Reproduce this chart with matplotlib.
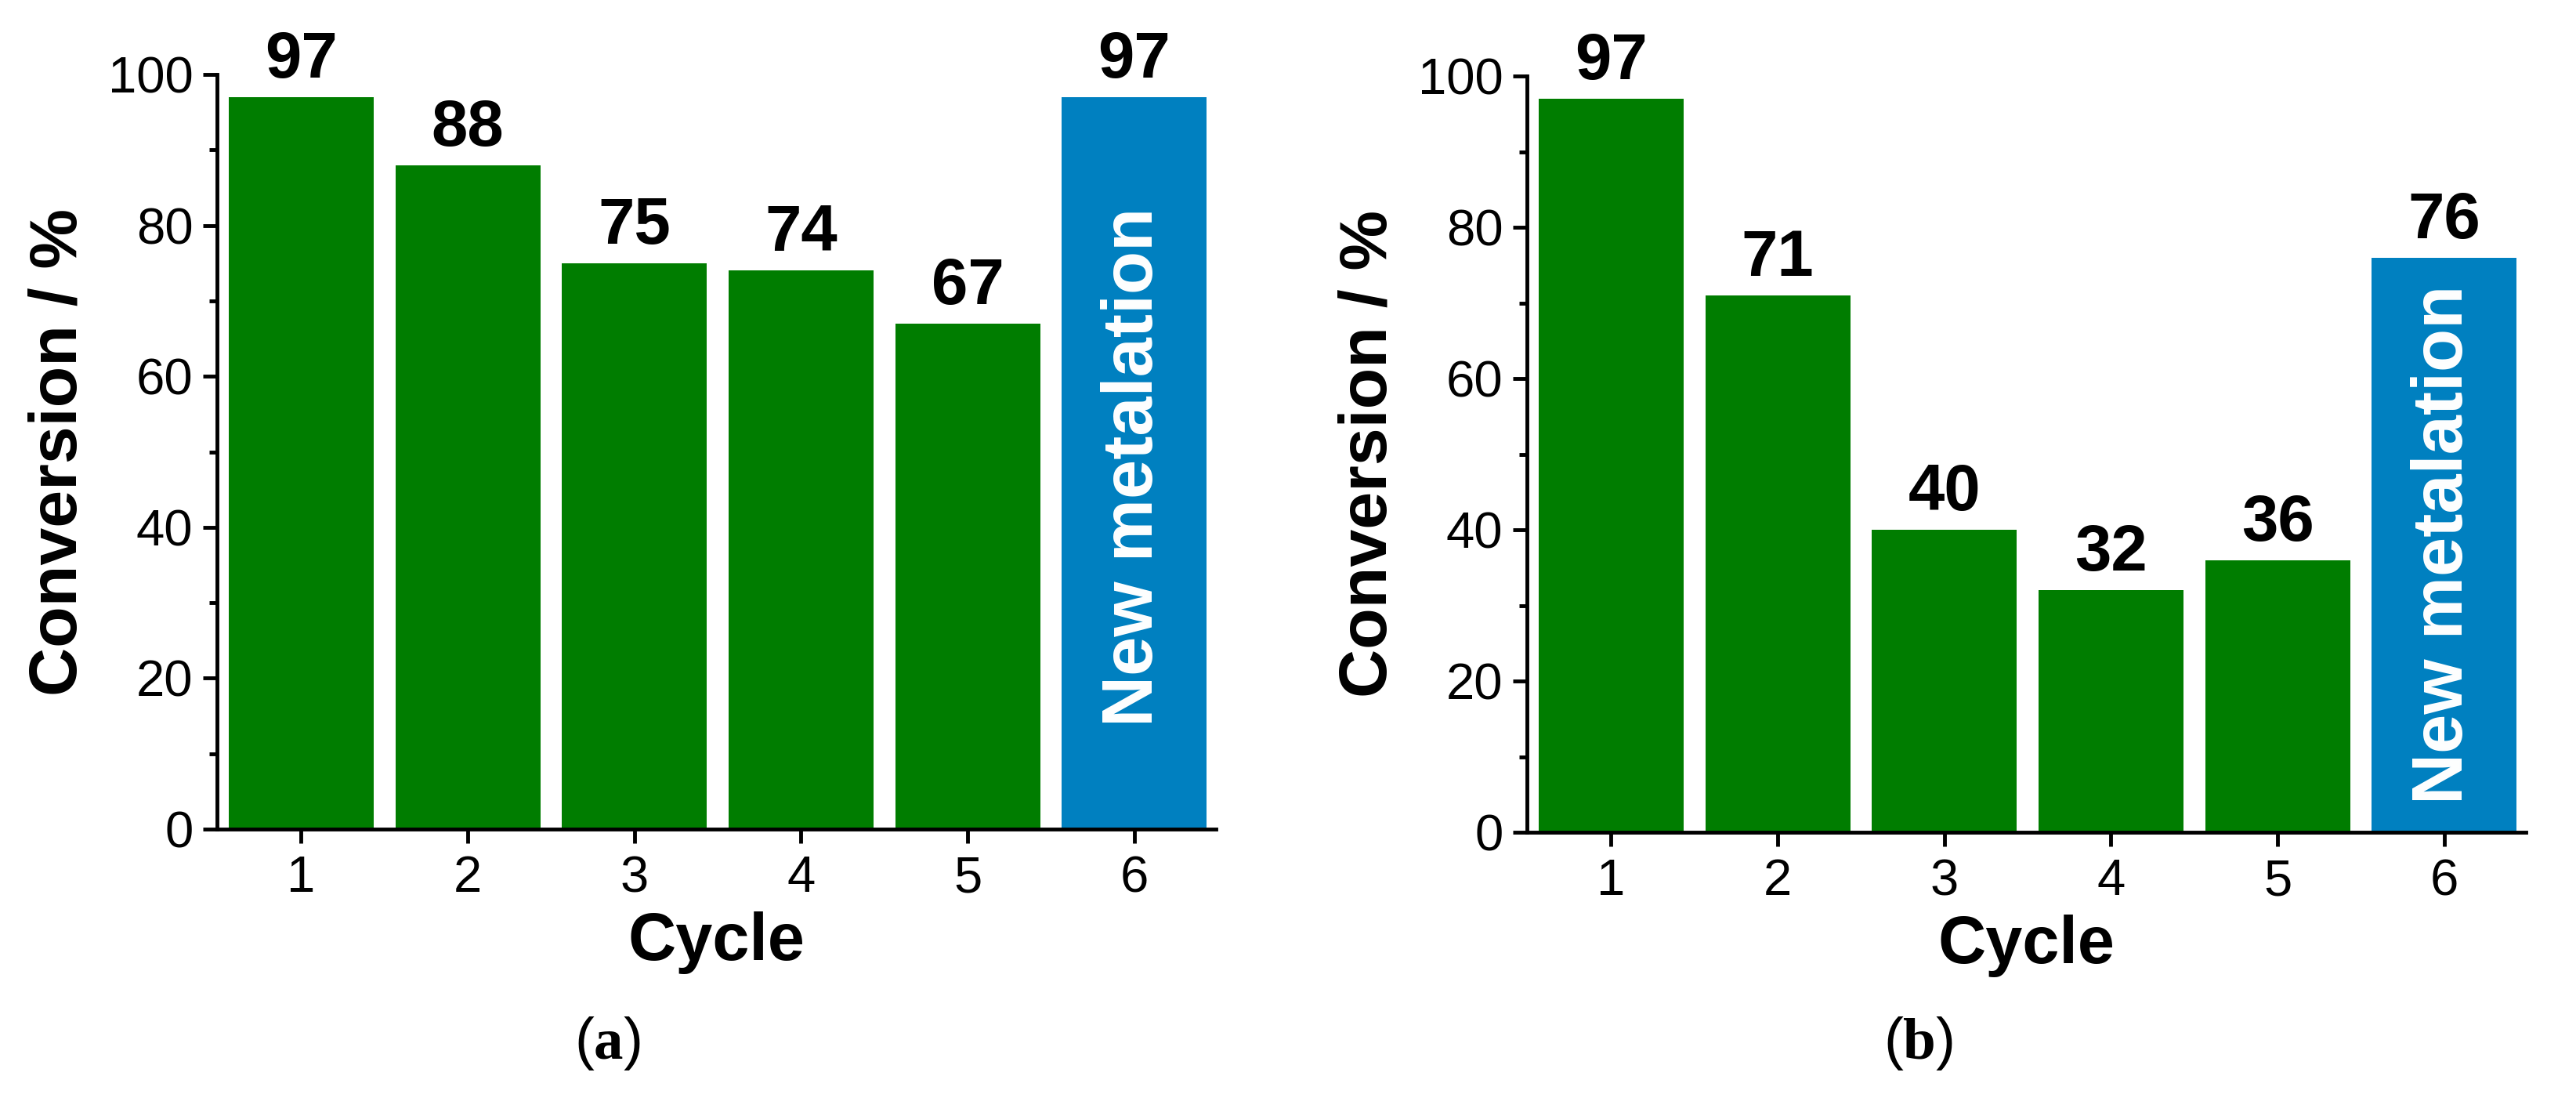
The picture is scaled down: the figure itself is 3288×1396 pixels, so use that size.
import matplotlib.pyplot as plt
from matplotlib.ticker import MultipleLocator

# Data
cycles = [1, 2, 3, 4, 5, 6]
conv_a = [97, 88, 75, 74, 67, 97]
conv_b = [97, 71, 40, 32, 36, 76]
bar_colors = ['#007d00'] * 5 + ['#0080c0']
inside_label = 'New metalation'

plt.rcParams['font.family'] = ['Liberation Sans', 'DejaVu Sans']
plt.rcParams['mathtext.fontset'] = 'custom'
plt.rcParams['mathtext.rm'] = 'Liberation Serif'
plt.rcParams['mathtext.bf'] = 'Liberation Serif:bold'

W, H = 3288, 1396
fig = plt.figure(figsize=(W / 100, H / 100), dpi=100)
ax_a = fig.add_axes([277 / W, 1 - 1058 / H, 1275 / W, 963 / H])
ax_b = fig.add_axes([1949 / W, 1 - 1062 / H, 1275 / W, 965 / H])


def draw_panel(ax, values, text_y):
    bars = ax.bar(cycles, values, width=0.87, color=bar_colors)
    for b, v in zip(bars, values):
        ax.text(b.get_x() + b.get_width() / 2, v + 2.6, str(v),
                ha='center', va='baseline', fontsize=60, fontweight='bold',
                clip_on=False)
    ax.text(cycles[-1], text_y, inside_label, rotation=90, color='white',
            ha='center', va='center', fontsize=65, fontweight='bold')
    ax.set_xlim(0.495, 6.49)
    ax.set_ylim(0, 100)
    ax.set_xticks(cycles)
    ax.yaxis.set_major_locator(MultipleLocator(20))
    ax.yaxis.set_minor_locator(MultipleLocator(10))
    for s in ['top', 'right']:
        ax.spines[s].set_visible(False)
    ax.spines['left'].set_linewidth(3.5)
    ax.spines['bottom'].set_linewidth(3.5)
    ax.tick_params(axis='both', which='major', direction='out', length=13,
                   width=3.5, labelsize=47)
    ax.tick_params(axis='x', which='major', pad=11)
    ax.tick_params(axis='y', which='major', pad=9)
    ax.tick_params(axis='y', which='minor', direction='out', length=7, width=3.5)
    ax.set_xlabel('Cycle', fontsize=61, fontweight='bold')
    ax.set_ylabel('Conversion / %', fontsize=62, fontweight='bold')
    ax.xaxis.set_label_coords(0.5, -0.109)
    ax.yaxis.set_label_coords(-0.127, 0.5)


draw_panel(ax_a, conv_a, 48)
draw_panel(ax_b, conv_b, 38)

fig.text(775 / W, 1 - 1332 / H, r'($\mathbf{a}$)', ha='center', va='center',
         fontsize=54)
fig.text(2449 / W, 1 - 1332 / H, r'($\mathbf{b}$)', ha='center', va='center',
         fontsize=54)

fig.savefig('out.png', dpi=100)
plt.close(fig)
